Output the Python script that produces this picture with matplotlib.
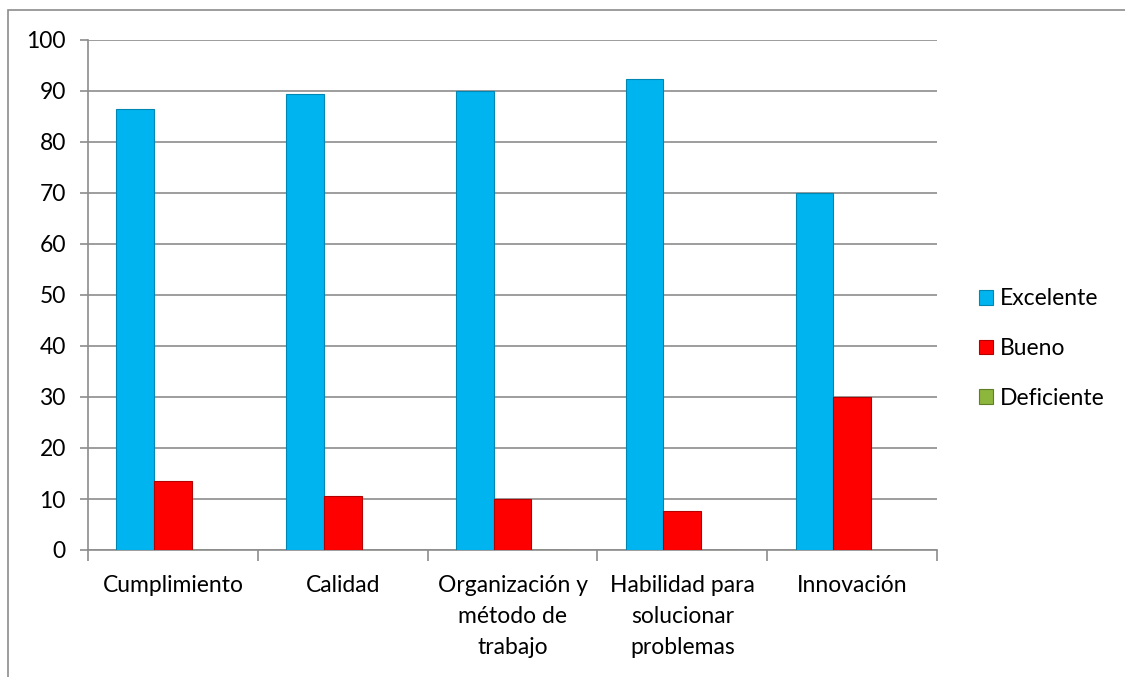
""" Bar chart of evaluation results per criterion. """
import numpy as np
import matplotlib.pyplot as plt
from matplotlib.patches import Rectangle

categories = ['Cumplimiento', 'Calidad', 'Organización y\nmétodo de\ntrabajo',
              'Habilidad para\nsolucionar\nproblemas', 'Innovación']
excelente = [86.4, 89.4, 90, 92.3, 70]
bueno = [13.6, 10.6, 10, 7.7, 30]
deficiente = [0, 0, 0, 0, 0]
series_names = ['Excelente', 'Bueno', 'Deficiente']
colors = ['#00b4f0', '#ff0000', '#8db63c']
edges = ['#0086b3', '#b30000', '#5e7f25']

plt.rcParams['font.family'] = ['Lato', 'DejaVu Sans']
fs = 16.5

fig = plt.figure(figsize=(11.25, 6.77), dpi=100)
ax = fig.add_axes([88 / 1125, 1 - 550 / 677, 849 / 1125, 510 / 677])

x = np.arange(len(categories))
width = 0.222
for i, (vals, name) in enumerate(zip([excelente, bueno, deficiente], series_names)):
    ax.bar(x + (i - 1) * width, vals, width, color=colors[i], edgecolor=edges[i],
           linewidth=0.8, label=name, zorder=3)

ax.set_xlim(-0.5, len(categories) - 0.5)
ax.set_ylim(0, 100)
ax.set_yticks(range(0, 101, 10))
ax.yaxis.grid(True, color='#8c8c8c', linewidth=1.2, zorder=0)
ax.set_xticks(x)
ax.set_xticklabels(categories, fontsize=fs, linespacing=1.6)
ax.set_xticks(np.arange(-0.5, len(categories), 1), minor=True)
ax.tick_params(axis='x', which='major', length=0, pad=18)
ax.tick_params(axis='x', which='minor', length=8, color='#8c8c8c', width=1.2)
ax.tick_params(axis='y', labelsize=fs, length=6, color='#8c8c8c', width=1.2, pad=10)
for side in ['top', 'right']:
    ax.spines[side].set_visible(False)
for side in ['left', 'bottom']:
    ax.spines[side].set_color('#8c8c8c')
    ax.spines[side].set_linewidth(1.2)

ax.legend(loc='center left', bbox_to_anchor=(1.025, 0.395), frameon=False,
          fontsize=fs, handlelength=0.6, handleheight=0.6, handletextpad=0.3,
          labelspacing=1.25)

fig.patches.append(Rectangle((8 / 1125, -0.1), 1.2, 1 - 10 / 677 + 0.1,
                             transform=fig.transFigure, fill=False,
                             edgecolor='#8c8c8c', linewidth=1.2))

plt.savefig('out.png', dpi=100)
